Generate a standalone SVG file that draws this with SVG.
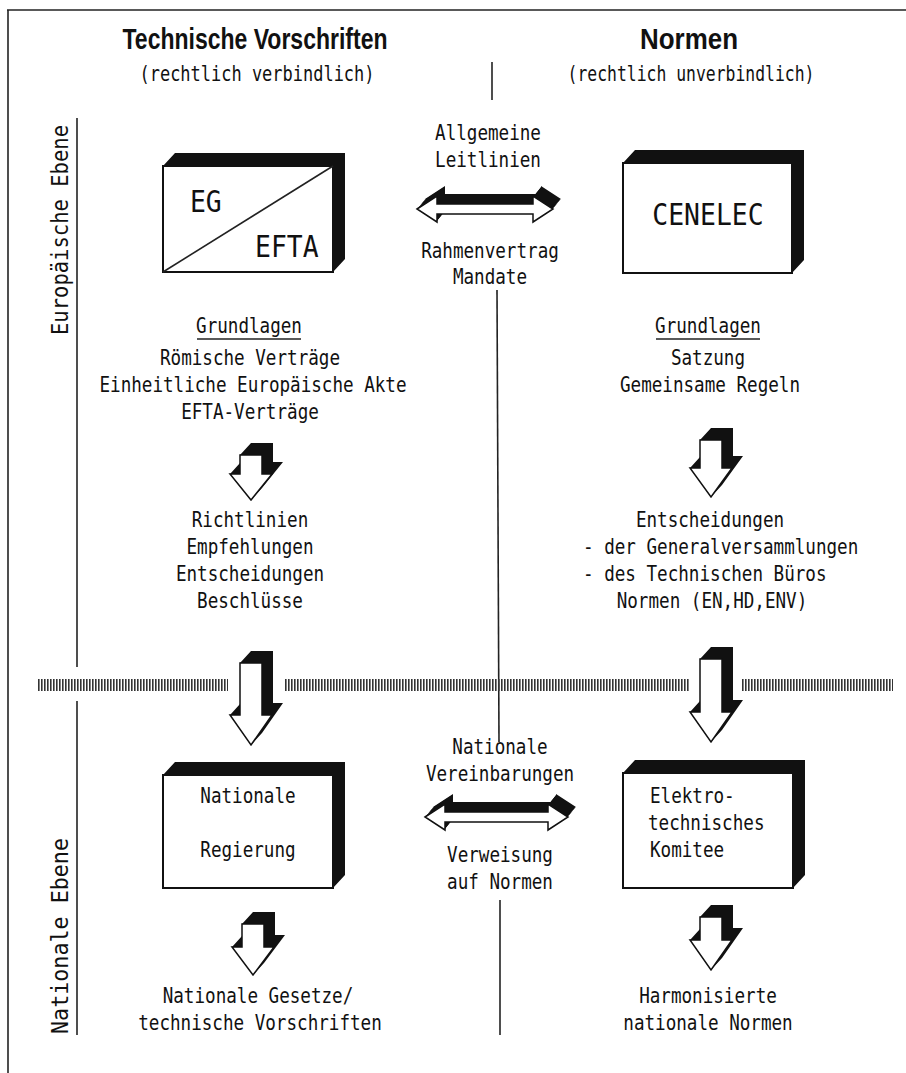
<svg xmlns="http://www.w3.org/2000/svg" xmlns:xlink="http://www.w3.org/1999/xlink" width="906" height="1073" viewBox="0 0 906 1073">
<style>
.t{font-family:"DejaVu Sans Mono","Liberation Mono",monospace;font-size:22px;fill:#111}
.c{text-anchor:middle}
.h{font-family:"Liberation Sans",Arial,sans-serif;font-weight:bold;font-size:30px;fill:#111;text-anchor:middle}
.sub{font-family:"DejaVu Sans Mono","Liberation Mono",monospace;font-size:22px;fill:#111;text-anchor:middle}
.big{font-family:"DejaVu Sans Mono","Liberation Mono",monospace;font-size:30px;fill:#111}
.side{font-family:"DejaVu Sans Mono","Liberation Mono",monospace;font-size:23px;fill:#111;text-anchor:middle}
.ln{stroke:#222;stroke-width:1.6;fill:none}
.front{fill:#fff;stroke:#111;stroke-width:2}
.sh{fill:#111}
.dash{stroke:#333;stroke-width:12;stroke-dasharray:1.6 1.4;fill:none}
.ar{fill:#fff;stroke:#111;stroke-width:1.5;stroke-linejoin:miter}
</style>
<defs>
<path id="dblTop" d="M417,209 L437,196 L437,204 L533,204 L533,196 L553,209 L533,222 L533,214 L437,214 L437,222 Z"/>
<path id="dblBot" d="M425,817 L445,804 L445,812 L548,812 L548,804 L568,817 L548,830 L548,822 L445,822 L445,830 Z"/>
</defs>

<!-- frame -->
<g id="frame">
<line class="ln" x1="7" y1="10" x2="906" y2="10"/>
<line class="ln" x1="8" y1="10" x2="8" y2="1073"/>
<line class="ln" x1="77" y1="118" x2="77" y2="667"/>
<line class="ln" x1="77" y1="701" x2="77" y2="1035"/>
<line class="ln" x1="492" y1="62" x2="492" y2="100"/>
</g>

<!-- headers -->
<g id="headers">
<text class="h" x="255" y="49" textLength="265" lengthAdjust="spacingAndGlyphs">Technische Vorschriften</text>
<text class="sub" x="257" y="81" textLength="235" lengthAdjust="spacingAndGlyphs">(rechtlich verbindlich)</text>
<text class="h" x="689" y="49" textLength="98" lengthAdjust="spacingAndGlyphs">Normen</text>
<text class="sub" x="691" y="81" textLength="247" lengthAdjust="spacingAndGlyphs">(rechtlich unverbindlich)</text>
<text class="side" transform="translate(68,230) rotate(-90)" textLength="210" lengthAdjust="spacingAndGlyphs">Europäische Ebene</text>
<text class="side" transform="translate(68,936) rotate(-90)" textLength="196" lengthAdjust="spacingAndGlyphs">Nationale Ebene</text>
</g>

<!-- connectors -->
<g id="connectors">
<line class="ln" x1="497" y1="290" x2="499" y2="742"/>
<line class="ln" x1="500" y1="900" x2="500" y2="1035"/>
<line class="dash" x1="38" y1="685" x2="228" y2="685"/>
<line class="dash" x1="285" y1="685" x2="690" y2="685"/>
<line class="dash" x1="742" y1="685" x2="893" y2="685"/>

<g id="arrowTop">
<use xlink:href="#dblTop" class="sh" transform="translate(1,-1.25)"/>
<use xlink:href="#dblTop" class="sh" transform="translate(2,-2.5)"/>
<use xlink:href="#dblTop" class="sh" transform="translate(3,-3.75)"/>
<use xlink:href="#dblTop" class="sh" transform="translate(4,-5)"/>
<use xlink:href="#dblTop" class="sh" transform="translate(5,-6.25)"/>
<use xlink:href="#dblTop" class="sh" transform="translate(6,-7.5)"/>
<use xlink:href="#dblTop" class="sh" transform="translate(7,-8.75)"/>
<use xlink:href="#dblTop" class="sh" transform="translate(8,-10)"/>
<use xlink:href="#dblTop" class="ar"/>
</g>
<g id="arrowBot">
<use xlink:href="#dblBot" class="sh" transform="translate(1,-1.25)"/>
<use xlink:href="#dblBot" class="sh" transform="translate(2,-2.5)"/>
<use xlink:href="#dblBot" class="sh" transform="translate(3,-3.75)"/>
<use xlink:href="#dblBot" class="sh" transform="translate(4,-5)"/>
<use xlink:href="#dblBot" class="sh" transform="translate(5,-6.25)"/>
<use xlink:href="#dblBot" class="sh" transform="translate(6,-7.5)"/>
<use xlink:href="#dblBot" class="sh" transform="translate(7,-8.75)"/>
<use xlink:href="#dblBot" class="sh" transform="translate(8,-10)"/>
<use xlink:href="#dblBot" class="ar"/>
</g>

<g id="down1">
<polygon class="sh" points="251,443 273,443 273,462 283,462 262,488 251,500 230,474 240,463.1 240,455"/>
<polygon class="ar" points="240,455 262,455 262,474 272,474 251,500 230,474 240,474"/>
</g>
<g id="down2">
<polygon class="sh" points="251,651 273,651 273,703 283,703 262,733 251,745 230,715 240,704.1 240,663"/>
<polygon class="ar" points="240,663 262,663 262,715 272,715 251,745 230,715 240,715"/>
</g>
<g id="down3">
<polygon class="sh" points="711,428 733,428 733,456 743,456 722,485 711,497 690,468 700,457.1 700,440"/>
<polygon class="ar" points="700,440 722,440 722,468 732,468 711,497 690,468 700,468"/>
</g>
<g id="down4">
<polygon class="sh" points="711,647 733,647 733,700 743,700 722,730 711,742 690,712 700,701.1 700,659"/>
<polygon class="ar" points="700,659 722,659 722,712 732,712 711,742 690,712 700,712"/>
</g>
<g id="down5">
<polygon class="sh" points="253,912 275,912 275,935 285,935 264,963 253,975 232,947 242,936.1 242,924"/>
<polygon class="ar" points="242,924 264,924 264,947 274,947 253,975 232,947 242,947"/>
</g>
<g id="down6">
<polygon class="sh" points="711,905 733,905 733,928 743,928 722,958 711,970 690,940 700,929.1 700,917"/>
<polygon class="ar" points="700,917 722,917 722,940 732,940 711,970 690,940 700,940"/>
</g>
</g>

<!-- nodes -->
<g id="node-eg">
<polygon class="sh" points="163,166 175,153 345,153 345,259 333,272 333,166"/>
<rect class="front" x="163" y="166" width="170" height="106"/>
<line class="ln" x1="163" y1="272" x2="333" y2="166"/>
<g transform="scale(0.88,1)">
<text class="big" x="215.9" y="212">EG</text>
<text class="big" x="289.8" y="257">EFTA</text>
</g>
</g>
<g id="node-cenelec">
<polygon class="sh" points="623,163 635,150 804,150 804,260 792,273 792,163"/>
<rect class="front" x="623" y="163" width="169" height="110"/>
<g transform="scale(0.88,1)">
<text class="big c" x="804.5" y="225">CENELEC</text>
</g>
</g>
<g id="node-regierung">
<polygon class="sh" points="163,775 175,762 345,762 345,875 333,888 333,775"/>
<rect class="front" x="163" y="775" width="170" height="113"/>
<g transform="scale(0.8,1)">
<text class="t c" x="310" y="803">Nationale</text>
<text class="t c" x="310" y="857">Regierung</text>
</g>
</g>
<g id="node-komitee">
<polygon class="sh" points="623,773 635,760 805,760 805,875 793,888 793,773"/>
<rect class="front" x="623" y="773" width="170" height="115"/>
<g transform="scale(0.8,1)">
<text class="t" x="812.5" y="803">Elektro-</text>
<text class="t" x="810" y="830">technisches</text>
<text class="t" x="812.5" y="857">Komitee</text>
</g>
</g>

<!-- connector labels -->
<g id="labels" transform="scale(0.8,1)">
<text class="t c" x="610" y="140">Allgemeine</text>
<text class="t c" x="610" y="167">Leitlinien</text>
<text class="t c" x="612.5" y="258">Rahmenvertrag</text>
<text class="t c" x="612.5" y="284">Mandate</text>
<text class="t c" x="625" y="754">Nationale</text>
<text class="t c" x="625" y="781">Vereinbarungen</text>
<text class="t c" x="625" y="862">Verweisung</text>
<text class="t c" x="625" y="889">auf Normen</text>
</g>

<g id="text-left">
<g transform="scale(0.8,1)">
<text class="t c" x="311.25" y="333">Grundlagen</text>
<text class="t c" x="312.5" y="365">Römische Verträge</text>
<text class="t c" x="316.25" y="392">Einheitliche Europäische Akte</text>
<text class="t c" x="312.5" y="419">EFTA-Verträge</text>
<text class="t c" x="312.5" y="527">Richtlinien</text>
<text class="t c" x="312.5" y="554">Empfehlungen</text>
<text class="t c" x="312.5" y="581">Entscheidungen</text>
<text class="t c" x="312.5" y="608">Beschlüsse</text>
<text class="t c" x="322.5" y="1003">Nationale Gesetze/</text>
<text class="t c" x="325" y="1030">technische Vorschriften</text>
</g>
<line class="ln" x1="197" y1="339" x2="301" y2="339"/>
</g>
<g id="text-right">
<g transform="scale(0.8,1)">
<text class="t c" x="885" y="333">Grundlagen</text>
<text class="t c" x="885" y="365">Satzung</text>
<text class="t c" x="887.5" y="392">Gemeinsame Regeln</text>
<text class="t c" x="887.5" y="527">Entscheidungen</text>
<text class="t" x="728.75" y="554">- der Generalversammlungen</text>
<text class="t" x="728.75" y="581">- des Technischen Büros</text>
<text class="t c" x="890" y="608">Normen (EN,HD,ENV)</text>
<text class="t c" x="885" y="1003">Harmonisierte</text>
<text class="t c" x="885" y="1030">nationale Normen</text>
</g>
<line class="ln" x1="656" y1="339" x2="760" y2="339"/>
</g>
</svg>
